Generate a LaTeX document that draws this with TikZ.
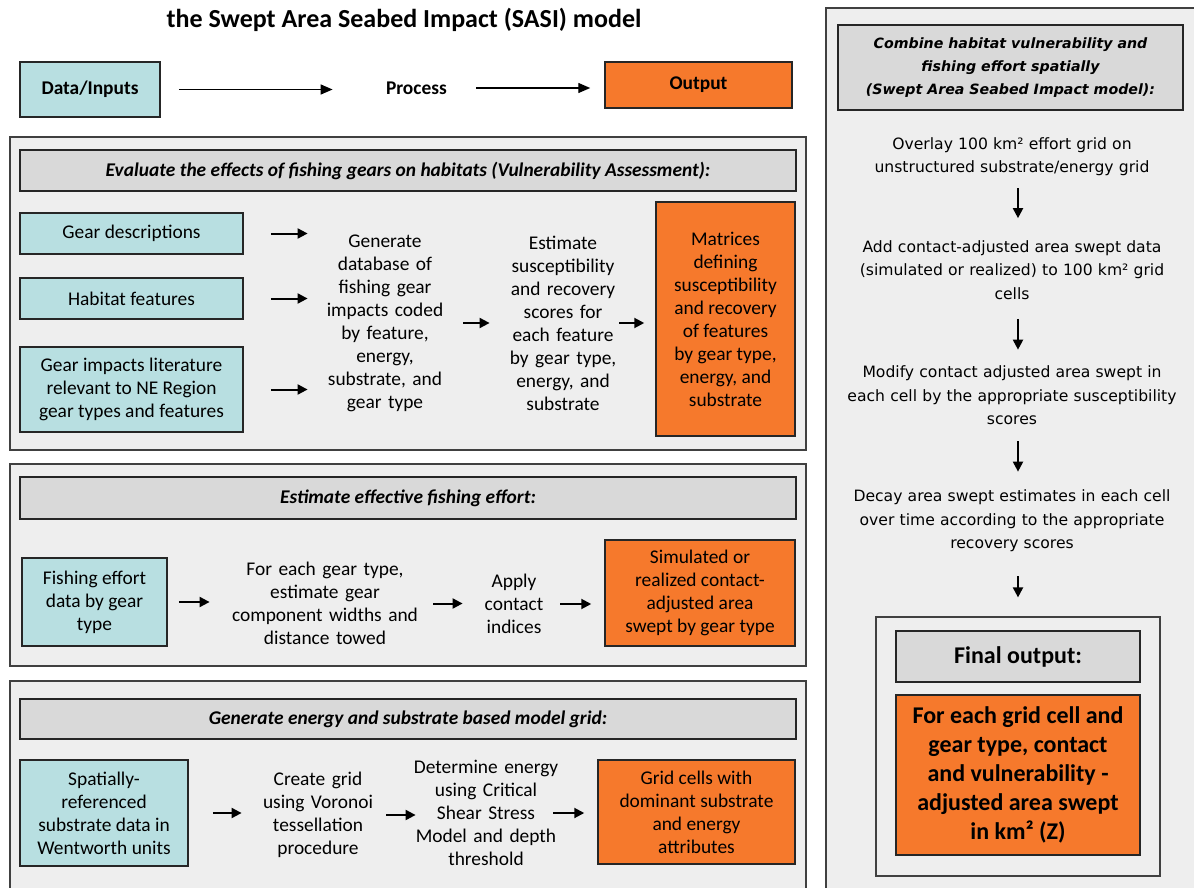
\documentclass[tikz,border=0pt]{standalone}
\usepackage{fontspec}
\setmainfont{Carlito}
\newfontfamily\verdfont{DejaVu Sans}
\usetikzlibrary{arrows.meta,positioning}
\definecolor{mteal}{HTML}{B8DFE1}
\definecolor{morange}{HTML}{F6792C}
\definecolor{mpanel}{HTML}{EEEEEE}
\definecolor{mhead}{HTML}{D9D9D9}
\newcommand{\bodyf}{\fontsize{9.7}{11.5}\selectfont}
\newcommand{\titlef}{\fontsize{13}{15}\selectfont\bfseries}
\newcommand{\rightf}{\verdfont\fontsize{7.8}{11.7}\selectfont}
\newcommand{\rheadf}{\verdfont\fontsize{7.1}{11.5}\selectfont\bfseries\itshape}
\newcommand{\finf}{\fontsize{12}{14.5}\selectfont\bfseries}
\tikzstyle{panel}=[draw=black!75, fill=mpanel, line width=0.6]
\tikzstyle{head}=[draw=black!85, fill=mhead, line width=0.75, align=center, font=\bodyf\bfseries\itshape]
\tikzstyle{inbox}=[draw=black!85, fill=mteal, line width=0.75, align=center, font=\bodyf]
\tikzstyle{outbox}=[draw=black!85, fill=morange, line width=0.75, align=center, font=\bodyf]
\tikzstyle{txt}=[align=center, inner sep=0pt, font=\bodyf]
\tikzstyle{rtxt}=[align=center, inner sep=0pt, font=\rightf, text width=170pt]
\tikzstyle{l1}=[line width=1, -{Triangle[length=5pt,width=5pt]}]
\tikzstyle{l0}=[line width=0.7, -{Triangle[length=6pt,width=5pt]}]

\begin{document}
\begin{tikzpicture}[x=0.5pt,y=-0.5pt]
    \useasboundingbox (0,0) rectangle (1194,888);
    % title and legend
    \node[txt, font=\titlef] (title) at (404,20) {the Swept Area Seabed Impact (SASI) model};
    \node[inbox, font=\bodyf\bfseries, minimum width=70pt, minimum height=27.5pt] (dat) at (90,89.5) {Data/Inputs};
    \node[txt, font=\bodyf\bfseries, text width=30pt] (proc) at (416,88) {Process};
    \node[outbox, font=\bodyf\bfseries, minimum width=93.5pt, minimum height=23pt] (out) at (698.5,85) {Output};
    \draw[l0, shorten <=9pt, shorten >=26.5pt] (dat.east) -- (dat.east -| proc.west);
    \draw[l0, shorten <=15pt, shorten >=7pt] (proc.east) -- (proc.east -| out.west);

    % vulnerability assessment
    \draw[panel] (10,137) rectangle (806,450);
    \node[head, minimum width=388pt, minimum height=20.5pt] (h1) at (408,170.5) {Evaluate the effects of fishing gears on habitats (Vulnerability Assessment):};
    \node[inbox, minimum width=111.5pt, minimum height=20.5pt] (gear) at (131.5,233.5) {Gear descriptions};
    \node[inbox, minimum width=111.5pt, minimum height=20.5pt] (hab) at (131.5,298.5) {Habitat features};
    \node[inbox, minimum width=111.5pt, minimum height=42.5pt] (lit) at (131.5,389.5) {Gear impacts literature\\relevant to NE Region\\gear types and features};
    \node[txt, text width=60pt] (gen) at (385,323) {Generate\\database of\\fishing gear\\impacts coded\\by feature,\\energy,\\substrate, and\\gear type};
    \node[txt, text width=55pt] (est) at (563,323) {Estimate\\susceptibility\\and recovery\\scores for\\each feature\\by gear type,\\energy, and\\substrate};
    \node[outbox, minimum width=69.5pt, minimum height=117pt] (mat) at (725.5,319) {Matrices\\defining\\susceptibility\\and recovery\\of features\\by gear type,\\energy, and\\substrate};
    \draw[l1, shorten <=13.5pt, shorten >=8.5pt] (gear.east) -- (gear.east -| gen.west);
    \draw[l1, shorten <=13.5pt, shorten >=8.5pt] (hab.east) -- (hab.east -| gen.west);
    \draw[l1, shorten <=13.5pt, shorten >=8.5pt] (lit.east) -- (lit.east -| gen.west);
    \draw[l1, shorten <=9pt, shorten >=9pt] (gen.east) -- (gen.east -| est.west);
    \draw[l1, shorten <=0.5pt, shorten >=5.5pt] (est.east) -- (est.east -| mat.west);

    % fishing effort
    \draw[panel] (10,464) rectangle (806,666);
    \node[head, minimum width=388pt, minimum height=21pt] (h2) at (408,498) {Estimate effective fishing effort:};
    \node[inbox, minimum width=72.5pt, minimum height=44pt] (fish) at (94.5,602) {Fishing effort\\data by gear\\type};
    \node[txt, text width=100pt] (comp) at (325,603.5) {For each gear type,\\estimate gear\\component widths and\\distance towed};
    \node[txt, text width=30pt] (apply) at (514,604) {Apply\\contact\\indices};
    \node[outbox, minimum width=95pt, minimum height=53pt] (sim) at (700,593) {Simulated or\\realized contact-\\adjusted area\\swept by gear type};
    \draw[l1, shorten <=5.5pt, shorten >=7.5pt] (fish.east) -- (fish.east -| comp.west);
    \draw[l1, shorten <=4pt, shorten >=10.5pt] (comp.east) -- (comp.east -| apply.west);
    \draw[l1, shorten <=8pt, shorten >=6.5pt] (apply.east) -- (apply.east -| sim.west);

    % model grid
    \draw[panel] (10,681) rectangle (806,895);
    \node[head, minimum width=388pt, minimum height=20pt] (h3) at (408,719) {Generate energy and substrate based model grid:};
    \node[inbox, minimum width=84pt, minimum height=53pt] (spat) at (104,813) {Spatially-\\referenced\\substrate data in\\Wentworth units};
    \node[txt, text width=65pt] (grid) at (318,815) {Create grid\\using Voronoi\\tessellation\\procedure};
    \node[txt, text width=82pt] (det) at (486,813) {Determine energy\\using Critical\\Shear Stress\\Model and depth\\threshold};
    \node[outbox, minimum width=98.5pt, minimum height=52pt] (cell) at (696.5,812) {Grid cells with\\dominant substrate\\and energy\\attributes};
    \draw[l1, shorten <=12pt, shorten >=5.5pt] (spat.east) -- (spat.east -| grid.west);
    \draw[l1, shorten <=1.5pt, shorten >=-6pt] (grid.east) -- (grid.east -| det.west);
    \draw[l1, shorten <=-7.5pt, shorten >=6.5pt] (det.east) -- (det.east -| cell.west);

    % swept area seabed impact
    \draw[panel] (826,8) rectangle (1200,895);
    \node[head, font=\rheadf, minimum width=172.5pt, minimum height=42.5pt] (h4) at (1010.5,67.5) {Combine habitat vulnerability and\\fishing effort spatially\\(Swept Area Seabed Impact model):};
    \node[rtxt] (s1) at (1012,156.5) {Overlay 100 km² effort grid on\\unstructured substrate/energy grid};
    \node[rtxt] (s2) at (1012,270) {Add contact-adjusted area swept data\\(simulated or realized) to 100 km² grid\\cells};
    \node[rtxt] (s3) at (1012,395.5) {Modify contact adjusted area swept in\\each cell by the appropriate susceptibility\\scores};
    \node[rtxt] (s4) at (1012,521) {Decay area swept estimates in each cell\\over time according to the appropriate\\recovery scores};
    \node[panel, minimum width=142pt, minimum height=129.5pt] (fbox) at (1018,746.5) {};
    \node[head, font=\finf, minimum width=122pt, minimum height=25.5pt] (fhead) at (1018,656.5) {Final output:};
    \node[outbox, font=\finf, minimum width=122pt, minimum height=80pt] (fout) at (1018,775) {For each grid cell and\\gear type, contact\\and vulnerability -\\adjusted area swept\\in km² (Z)};
    \draw[l1, shorten <=6pt, shorten >=11pt] ([xshift=3pt]s1.south) -- ([xshift=3pt]s2.north);
    \draw[l1, shorten <=9.5pt, shorten >=8pt] ([xshift=3pt]s2.south) -- ([xshift=3pt]s3.north);
    \draw[l1, shorten <=8pt, shorten >=9pt] ([xshift=3pt]s3.south) -- ([xshift=3pt]s4.north);
    \draw[l1, shorten <=12pt, shorten >=9.5pt] ([xshift=3pt]s4.south) -- (fbox.north);
\end{tikzpicture}
\end{document}
